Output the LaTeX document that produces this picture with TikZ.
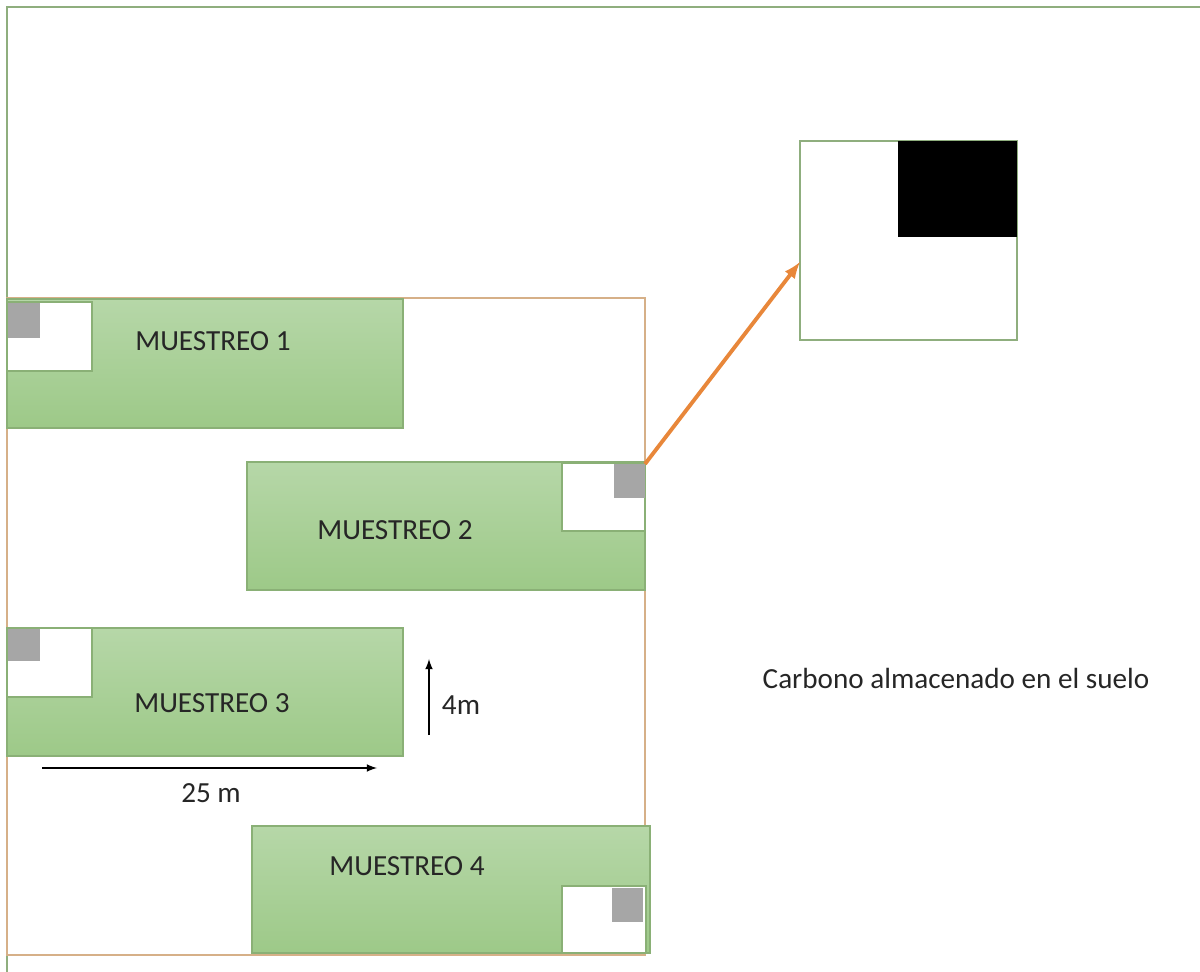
\documentclass[tikz,border=0pt]{standalone}
\usepackage{fontspec}
\setmainfont{Carlito}
\usetikzlibrary{calc}

\definecolor{greentop}{RGB}{182,215,168}
\definecolor{greenbot}{RGB}{157,201,136}
\definecolor{plotedge}{RGB}{138,176,118}
\definecolor{frameedge}{RGB}{143,174,126}
\definecolor{tanedge}{RGB}{214,176,136}
\definecolor{samplegray}{RGB}{166,166,166}
\definecolor{arroworange}{RGB}{232,135,58}

\begin{document}
\begin{tikzpicture}[x=0.02cm,y=-0.02cm,>=latex,
	plot/.style={draw=plotedge,line width=0.6pt,top color=greentop,bottom color=greenbot},
	hole/.style={draw=plotedge,line width=0.6pt,fill=white},
	sample/.style={fill=samplegray},
	txt/.style={font=\fontsize{16.6}{19}\selectfont,text=black!85,inner sep=0pt}]
					\useasboundingbox (0,0) rectangle (1200,972);
					%FRAMES
					\draw[frameedge,line width=0.6pt] (7,972) -- (7,7) -- (1200,7);
					\draw[tanedge,line width=0.6pt] (7,298) rectangle (645,955);
					
					%PLOTS
					\draw[plot] (7,299) rectangle (403,428);
					\draw[hole] (7,302) rectangle (92,371);
					\fill[sample] (8,303) rectangle (40,338);
					
					\draw[plot] (247,462) rectangle (645,590);
					\draw[hole] (562,463) rectangle (645,531);
					\fill[sample] (614,464) rectangle (645,498);
					
					\draw[plot] (7,628) rectangle (403,756);
					\draw[hole] (7,628) rectangle (92,697);
					\fill[sample] (8,629) rectangle (40,661);
					
					\draw[plot] (252,826) rectangle (650,953);
					\draw[hole] (562,886) rectangle (646,953);
					\fill[sample] (612,888) rectangle (643,922);
					
					\node[txt] (m1) at (213,341) {MUESTREO 1};
					\node[txt] (m2) at (395,530) {MUESTREO 2};
					\node[txt] (m3) at (212,703) {MUESTREO 3};
					\node[txt] (m4) at (407,866) {MUESTREO 4};
					
					%SUBPLOT
					\draw[frameedge,line width=0.6pt] (800,141) rectangle (1017,340);
					\fill[black] (898,141) rectangle (1017,237);
					\coordinate (s2) at (645,464);
					\coordinate (zoomin) at (800,262);
					\draw[->,arroworange,line width=2.2pt] (s2) -- (zoomin);
					\node[txt,anchor=base] (carbono) at (956,688) {Carbono almacenado en el suelo};
					
					%SCALES
					\coordinate (a25) at (42,768);
					\coordinate (b25) at (377,768);
					\draw[->,line width=1pt] (a25) -- (b25);
					\node[txt,anchor=base] (l25) at (211,802) {25 m};
					\coordinate (a4) at (429,735);
					\coordinate (b4) at (429,659);
					\draw[->,line width=1pt] (a4) -- (b4);
					\node[txt,anchor=base] (l4) at (461,714) {4m};
					
				  \end{tikzpicture}
\end{document}
